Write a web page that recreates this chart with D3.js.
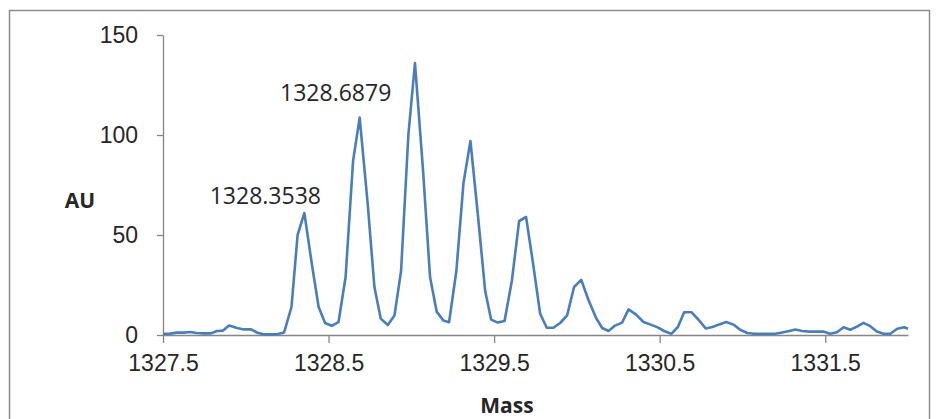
<!DOCTYPE html>
<html>
<head>
<meta charset="utf-8">
<script src="https://cdn.jsdelivr.net/npm/d3@7"></script>
<style>
  html, body { margin: 0; padding: 0; background: #ffffff; }
  svg { display: block; font-family: "Open Sans", "Noto Sans", sans-serif; }
</style>
</head>
<body>
<svg id="chart" width="940" height="419"></svg>
<script>
// Mass spectrum (isotope envelope), intensity in arbitrary units
const mass = [
  1327.500, 1327.542, 1327.585, 1327.627, 1327.663, 1327.705, 1327.748, 1327.790, 1327.826, 1327.863,
  1327.899, 1327.947, 1327.989, 1328.032, 1328.074, 1328.116, 1328.159, 1328.195, 1328.231, 1328.276,
  1328.313, 1328.3538, 1328.400, 1328.440, 1328.479, 1328.519, 1328.560, 1328.603, 1328.648, 1328.6879,
  1328.736, 1328.777, 1328.815, 1328.858, 1328.898, 1328.938, 1328.982, 1329.022, 1329.071, 1329.113,
  1329.153, 1329.194, 1329.228, 1329.272, 1329.315, 1329.357, 1329.402, 1329.446, 1329.482, 1329.522,
  1329.563, 1329.607, 1329.651, 1329.693, 1329.733, 1329.778, 1329.818, 1329.858, 1329.899, 1329.941,
  1329.983, 1330.026, 1330.070, 1330.116, 1330.153, 1330.191, 1330.231, 1330.273, 1330.312, 1330.358,
  1330.402, 1330.446, 1330.488, 1330.527, 1330.570, 1330.610, 1330.648, 1330.692, 1330.736, 1330.778,
  1330.819, 1330.860, 1330.902, 1330.946, 1330.986, 1331.029, 1331.071, 1331.113, 1331.156, 1331.198,
  1331.240, 1331.283, 1331.319, 1331.361, 1331.403, 1331.446, 1331.488, 1331.530, 1331.571, 1331.611,
  1331.651, 1331.692, 1331.731, 1331.772, 1331.812, 1331.852, 1331.893, 1331.935, 1331.977, 1332.000
];
const intensity = [
  0.6, 0.7, 1.2, 1.2, 1.5, 1.0, 0.8, 0.8, 2.0, 2.2,
  4.7, 3.5, 2.8, 2.8, 1.0, 0.3, 0.3, 0.5, 1.2, 14,
  50, 61, 35, 14, 6, 4.6, 6.4, 29, 87, 108.7,
  66, 24, 8.2, 5, 9.7, 32, 100, 136, 82, 29,
  11.7, 7.2, 6.4, 32, 76, 97, 60, 22, 7.7, 6.2,
  7, 27, 57, 59, 37, 10.7, 3.6, 3.6, 6, 9.8,
  24, 27.6, 17.5, 8.5, 3.5, 2, 4.7, 6.2, 12.8, 10.2,
  6.5, 5.2, 3.8, 2, 0.6, 4, 11.4, 11.4, 7.5, 3.3,
  4, 5.3, 6.5, 5.2, 2.6, 1.0, 0.6, 0.6, 0.6, 0.6,
  1.3, 2.0, 2.7, 2.0, 1.7, 1.7, 1.7, 0.6, 1.4, 3.9,
  2.6, 4.2, 6.1, 4.4, 1.7, 0.6, 0.6, 3.1, 3.9, 3.1
];

const xTickValues = [1327.5, 1328.5, 1329.5, 1330.5, 1331.5];
const yTickValues = [0, 50, 100, 150];

// Annotated peak masses (the label text is the mass itself)
const peakLabels = ["1328.3538", "1328.6879"];

const xTitle = "Mass";
const yTitle = "AU";

// ---- layout ----
const W = 940, H = 419;
const plot = { left: 163, right: 908, top: 35, bottom: 335 };
const lineColor = "#4A7EBB";
const axisColor = "#868686";
const textColor = "#262626";

const svg = d3.select("#chart");

// outer chart frame
svg.append("rect")
  .attr("x", 9.5).attr("y", 10.5)
  .attr("width", 920).attr("height", 430)
  .attr("fill", "#ffffff")
  .attr("stroke", "#8c8c8c")
  .attr("stroke-width", 1.5);

const x = d3.scaleLinear().domain([1327.5, 1332.0]).range([plot.left, plot.right]);
const y = d3.scaleLinear().domain([0, 150]).range([plot.bottom, plot.top]);

// y axis
const yAxis = svg.append("g")
  .attr("transform", `translate(${plot.left},0)`)
  .call(d3.axisLeft(y).tickValues(yTickValues).tickSize(6).tickSizeOuter(0).tickPadding(19)
    .tickFormat(d3.format("d")));
yAxis.select(".domain").attr("stroke", axisColor).attr("stroke-width", 1.3);
yAxis.selectAll(".tick line").attr("stroke", axisColor).attr("stroke-width", 1.3);
yAxis.selectAll(".tick text")
  .attr("fill", textColor)
  .style("font-size", "23px")
  .attr("dy", "0.33em");

// x axis
const xAxis = svg.append("g")
  .attr("transform", `translate(0,${plot.bottom})`)
  .call(d3.axisBottom(x).tickValues(xTickValues).tickSize(8).tickSizeOuter(0).tickPadding(12)
    .tickFormat(d3.format(".1f")));
xAxis.select(".domain").attr("stroke", axisColor).attr("stroke-width", 1.3);
xAxis.selectAll(".tick line").attr("stroke", axisColor).attr("stroke-width", 1.3);
xAxis.selectAll(".tick text")
  .attr("fill", textColor)
  .style("font-size", "23px");

// spectrum trace
const pts = mass.map((m, i) => [m, intensity[i]]);
svg.append("path")
  .datum(pts)
  .attr("fill", "none")
  .attr("stroke", lineColor)
  .attr("stroke-width", 2.6)
  .attr("stroke-linejoin", "round")
  .attr("d", d3.line().x(d => x(d[0])).y(d => y(d[1])));

// peak annotations, placed up-left of their peaks
const labelOffsets = [[-39, -9], [-24, -17]];
peakLabels.forEach((lbl, k) => {
  const m = +lbl;
  const i = mass.indexOf(m);
  svg.append("text")
    .attr("x", x(m) + labelOffsets[k][0])
    .attr("y", y(intensity[i]) + labelOffsets[k][1])
    .attr("text-anchor", "middle")
    .attr("fill", textColor)
    .style("font-size", "23px")
    .text(lbl);
});

// axis titles
svg.append("text")
  .attr("x", 80).attr("y", 208)
  .attr("text-anchor", "middle")
  .attr("fill", textColor)
  .style("font-size", "21px").style("font-weight", "bold")
  .text(yTitle);

svg.append("text")
  .attr("x", 507).attr("y", 413)
  .attr("text-anchor", "middle")
  .attr("fill", textColor)
  .style("font-size", "21px").style("font-weight", "bold")
  .text(xTitle);
</script>
</body>
</html>
